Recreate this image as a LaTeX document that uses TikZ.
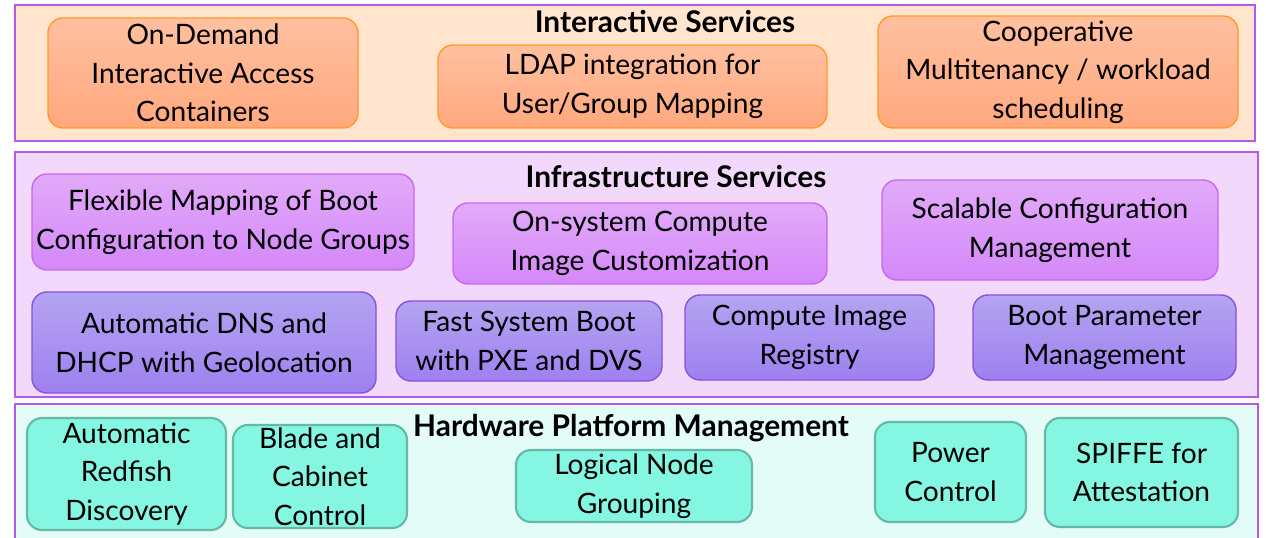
\documentclass[tikz,border=0pt]{standalone}
\usepackage{fontspec}
\setmainfont{Lato}
\usetikzlibrary{positioning}
\definecolor{bandline}{HTML}{B858E8}
\definecolor{isfill}{HTML}{FFE5CD}
\definecolor{inffill}{HTML}{F2D9FC}
\definecolor{hwfill}{HTML}{E3FCF7}
\definecolor{orangetop}{HTML}{FFC0A0}
\definecolor{orangebot}{HTML}{FFA87E}
\definecolor{orangeline}{HTML}{FF9A2A}
\definecolor{pinktop}{HTML}{E2AAF9}
\definecolor{pinkbot}{HTML}{D488F9}
\definecolor{pinkline}{HTML}{C868F0}
\definecolor{bluetop}{HTML}{B4A4F1}
\definecolor{bluebot}{HTML}{9E80F0}
\definecolor{blueline}{HTML}{8A50E0}
\definecolor{tealfill}{HTML}{84F6E1}
\definecolor{tealline}{HTML}{66B8A8}

\begin{document}
\begin{tikzpicture}[x=0.2mm, y=-0.2mm,
                    every node/.style={font=\fontsize{16}{22}\selectfont, align=center, inner sep=0pt},
                    sz/.style 2 args={minimum width=#1*0.2mm, minimum height=#2*0.2mm},
                    band/.style={draw=bandline, line width=1pt},
                    title/.style={font=\fontsize{17}{22}\selectfont\bfseries},
                    svc/.style={draw, rounded corners=3mm, line width=0.8pt},
                    orangebox/.style={svc, draw=orangeline, top color=orangetop, bottom color=orangebot},
                    pinkbox/.style={svc, draw=pinkline, top color=pinktop, bottom color=pinkbot},
                    bluebox/.style={svc, draw=blueline, top color=bluetop, bottom color=bluebot},
                    tealbox/.style={svc, draw=tealline, fill=tealfill, line width=1.2pt}]
\useasboundingbox (0,0) rectangle (1266,538);
\clip (0,0) rectangle (1266,538);
\filldraw[band, fill=isfill] (15,5) rectangle (1255,141);
\filldraw[band, fill=inffill] (15,152) rectangle (1258,397);
\filldraw[band, fill=hwfill] (15,404) rectangle (1258,560);

\node[title] (is) at (665,22) {Interactive Services};
\node[orangebox, sz={310}{110}] (ondemand) at (203,73) {On-Demand\\Interactive Access\\Containers};
\node[orangebox, sz={389}{83}] (ldap) at (632.5,86.5) {LDAP integration for\\User/Group Mapping};
\node[orangebox, sz={360}{112}] (coop) at (1058,72) {Cooperative\\Multitenancy / workload\\scheduling};

\node[title] (infra) at (676,177) {Infrastructure Services};
\node[pinkbox, sz={382}{96}] (flexmap) at (223,222) {Flexible Mapping of Boot\\Configuration to Node Groups};
\node[pinkbox, sz={374}{81}] (onsys) at (640,243.5) {On-system Compute\\Image Customization};
\node[pinkbox, sz={336}{100}] (scalcfg) at (1050,230) {Scalable Configuration\\Management};
\node[bluebox, sz={344}{101}] (dns) at (204,342.5) {Automatic DNS and\\DHCP with Geolocation};
\node[bluebox, sz={266}{80}] (pxe) at (529,341) {Fast System Boot\\with PXE and DVS};
\node[bluebox, sz={249}{85}] (imgreg) at (809.5,337.5) {Compute Image\\Registry};
\node[bluebox, sz={263}{85}] (bootparam) at (1104.5,337.5) {Boot Parameter\\Management};

\node[title] (hw) at (631,428) {Hardware Platform Management};
\node[tealbox, sz={199}{112}] (redfish) at (126.5,474) {Automatic\\Redfish\\Discovery};
\node[tealbox, sz={174}{103}] (blade) at (320,476.5) {Blade and\\Cabinet\\Control};
\node[tealbox, sz={236}{72}] (lognode) at (634,486) {Logical Node\\Grouping};
\node[tealbox, sz={151}{100}] (power) at (950.5,472) {Power\\Control};
\node[tealbox, sz={193}{109}] (spiffe) at (1141.5,472.5) {SPIFFE for\\Attestation};
\end{tikzpicture}
\end{document}
